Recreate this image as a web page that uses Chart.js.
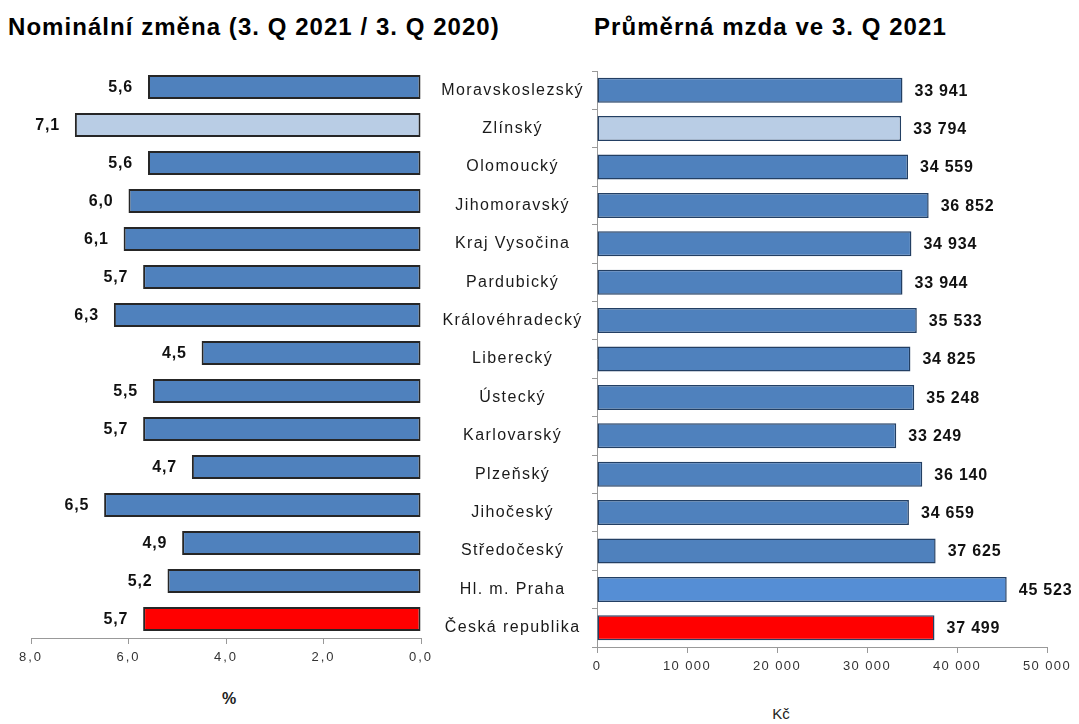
<!DOCTYPE html>
<html lang="cs">
<head>
  <meta charset="UTF-8">
  <title>Nominální změna a průměrná mzda - kraje</title>
  <script src="https://cdn.jsdelivr.net/npm/chart.js"></script>
  <style>
    body { margin: 0; background: #fff; font-family: "Liberation Sans", Arial, sans-serif; }
    #wrap { position: relative; width: 1079px; height: 724px; overflow: hidden; }
    .title { position: absolute; top: 12px; font-weight: bold; font-size: 24px; line-height: 30px; color: #000; white-space: nowrap; letter-spacing: 1.05px; }
    .unit { position: absolute; color: #222; white-space: nowrap; transform: translateX(-50%); }
    canvas { position: absolute; }
  </style>
</head>
<body>
<div id="wrap">
  <div class="title" style="left:8px">Nominální změna (3. Q 2021 / 3. Q 2020)</div>
  <div class="title" style="left:594px">Průměrná mzda ve 3. Q 2021</div>
  <canvas id="leftChart" width="440" height="672" style="left:0;top:0"></canvas>
  <canvas id="rightChart" width="654" height="682" style="left:425px;top:0"></canvas>
  <div class="unit" style="left:229px;top:690px;font-weight:bold;font-size:16px">%</div>
  <div class="unit" style="left:781px;top:705px;font-size:15px">Kč</div>
</div>

<script>
  // kraje, shora dolů
  const regions = [
    "Moravskoslezský", "Zlínský", "Olomoucký", "Jihomoravský", "Kraj Vysočina",
    "Pardubický", "Královéhradecký", "Liberecký", "Ústecký", "Karlovarský",
    "Plzeňský", "Jihočeský", "Středočeský", "Hl. m. Praha", "Česká republika"
  ]
  // nominální změna v %
  const nominalChange = [5.6, 7.1, 5.6, 6.0, 6.1, 5.7, 6.3, 4.5, 5.5, 5.7, 4.7, 6.5, 4.9, 5.2, 5.7]
  // průměrná mzda v Kč
  const avgWage = [33941, 33794, 34559, 36852, 34934, 33944, 35533, 34825, 35248, 33249, 36140, 34659, 37625, 45523, 37499]
  const changeTicks = [0, 2, 4, 6, 8]
  const wageTicks = [0, 10000, 20000, 30000, 40000, 50000]

  const blue = "#4f81bd"
  const lightBlue = "#b9cde5"
  const prahaBlue = "#558ed5"
  const red = "#ff0000"

  function fmtDec(v) { return Number(v).toFixed(1).replace(".", ",") }
  function fmtThousands(v) { return String(v).replace(/\B(?=(\d{3})+(?!\d))/g, " ") }

  const leftColors = regions.map((r, i) => i === 1 ? lightBlue : (i === regions.length - 1 ? red : blue))
  const rightColors = regions.map((r, i) => i === 1 ? lightBlue : (i === 13 ? prahaBlue : (i === regions.length - 1 ? red : blue)))

  // roztažení písma jako v originále
  function spacingPlugin(px) {
    return {
      id: "spacing",
      beforeLayout(chart) { chart.ctx.letterSpacing = px },
      beforeDraw(chart) { chart.ctx.letterSpacing = px }
    }
  }

  // popisky hodnot u sloupců
  function valueLabels(format, side, gap) {
    return {
      id: "valueLabels",
      afterDatasetsDraw(chart) {
        const ctx = chart.ctx
        const meta = chart.getDatasetMeta(0)
        ctx.save()
        ctx.font = "bold 16px 'Liberation Sans', Arial, sans-serif"
        ctx.letterSpacing = "0.8px"
        ctx.fillStyle = "#111"
        ctx.textBaseline = "middle"
        ctx.textAlign = side === "left" ? "right" : "left"
        meta.data.forEach((bar, i) => {
          const v = chart.data.datasets[0].data[i]
          const x = side === "left" ? bar.x - gap : bar.x + gap
          ctx.fillText(format(v), x, bar.y + 1)
        })
        ctx.restore()
      }
    }
  }

  const tickFont = { family: "'Liberation Sans', Arial, sans-serif", size: 13 }

  new Chart(document.getElementById("leftChart"), {
    type: "bar",
    data: {
      labels: regions,
      datasets: [{
        data: nominalChange,
        backgroundColor: leftColors,
        borderColor: "#262626",
        borderWidth: 2,
        borderSkipped: false,
        barPercentage: 0.63,
        categoryPercentage: 1
      }]
    },
    options: {
      indexAxis: "y",
      responsive: false,
      animation: false,
      layout: { padding: { left: 31, right: 19, top: 68, bottom: 0 } },
      plugins: { legend: { display: false }, tooltip: { enabled: false } },
      scales: {
        x: {
          reverse: true,
          min: 0,
          max: 8,
          afterBuildTicks: (scale) => { scale.ticks = changeTicks.map(v => ({ value: v })) },
          afterFit: (scale) => { scale.height = 34 },
          ticks: { callback: (v) => fmtDec(v), color: "#333", font: tickFont, padding: 6, maxRotation: 0 },
          grid: { drawOnChartArea: false, tickLength: 6, color: "#999" },
          border: { color: "#999" }
        },
        y: { display: false }
      }
    },
    plugins: [spacingPlugin("2px"), valueLabels(fmtDec, "left", 15)]
  })

  new Chart(document.getElementById("rightChart"), {
    type: "bar",
    data: {
      labels: regions,
      datasets: [{
        data: avgWage,
        backgroundColor: rightColors,
        borderColor: "#233f63",
        borderWidth: 1.5,
        borderSkipped: false,
        barPercentage: 0.65,
        categoryPercentage: 1
      }]
    },
    options: {
      indexAxis: "y",
      responsive: false,
      animation: false,
      layout: { padding: { left: 0, right: 32, top: 71, bottom: 0 } },
      plugins: { legend: { display: false }, tooltip: { enabled: false } },
      scales: {
        x: {
          min: 0,
          max: 50000,
          afterBuildTicks: (scale) => { scale.ticks = wageTicks.map(v => ({ value: v })) },
          afterFit: (scale) => { scale.height = 35 },
          ticks: { callback: (v) => fmtThousands(v), color: "#333", font: tickFont, padding: 6, maxRotation: 0 },
          grid: { drawOnChartArea: false, tickLength: 6, color: "#999" },
          border: { color: "#999" }
        },
        y: {
          afterFit: (scale) => { scale.width = 172 },
          ticks: {
            crossAlign: "center",
            color: "#1a1a1a",
            font: { family: "'Liberation Sans', Arial, sans-serif", size: 16 },
            padding: 8,
            autoSkip: false
          },
          grid: { drawOnChartArea: false, offset: true, tickLength: 5, color: "#999" },
          border: { color: "#999" }
        }
      }
    },
    plugins: [spacingPlugin("1.4px"), valueLabels(fmtThousands, "right", 12)]
  })
</script>
</body>
</html>
